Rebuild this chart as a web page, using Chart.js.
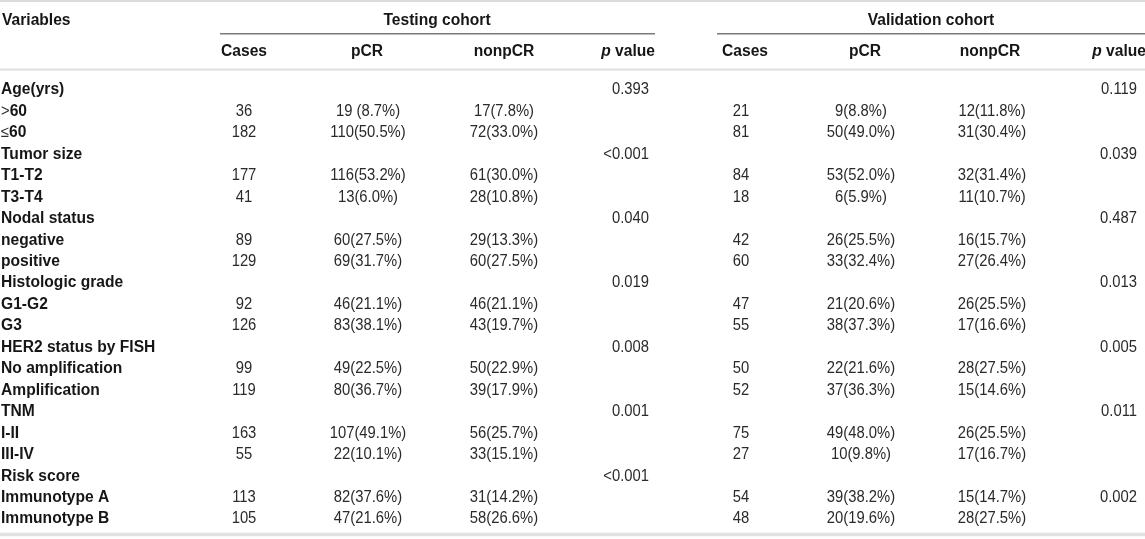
<!DOCTYPE html>
<html>
<head>
<meta charset="utf-8">
<script src="https://cdn.jsdelivr.net/npm/chart.js@4.4.1/dist/chart.umd.min.js"></script>
<style>
html,body{margin:0;padding:0;background:#ffffff;overflow:hidden;}
canvas{display:block;}
</style>
</head>
<body>
<canvas id="c" width="1145" height="539"></canvas>
<script>
// ---------------- DATA ----------------
const variables = ['Age(yrs)', '>60', '\u226460', 'Tumor size', 'T1-T2', 'T3-T4', 'Nodal status', 'negative', 'positive',
  'Histologic grade', 'G1-G2', 'G3', 'HER2 status by FISH', 'No amplification', 'Amplification', 'TNM', 'I-II', 'III-IV',
  'Risk score', 'Immunotype A', 'Immunotype B'];
const testCases = ['', '36', '182', '', '177', '41', '', '89', '129', '', '92', '126', '', '99', '119', '', '163', '55', '', '113', '105'];
const testPCR = ['', '19 (8.7%)', '110(50.5%)', '', '116(53.2%)', '13(6.0%)', '', '60(27.5%)', '69(31.7%)', '', '46(21.1%)', '83(38.1%)', '',
  '49(22.5%)', '80(36.7%)', '', '107(49.1%)', '22(10.1%)', '', '82(37.6%)', '47(21.6%)'];
const testNonPCR = ['', '17(7.8%)', '72(33.0%)', '', '61(30.0%)', '28(10.8%)', '', '29(13.3%)', '60(27.5%)', '', '46(21.1%)', '43(19.7%)', '',
  '50(22.9%)', '39(17.9%)', '', '56(25.7%)', '33(15.1%)', '', '31(14.2%)', '58(26.6%)'];
const testP = ['0.393', '', '', '<0.001', '', '', '0.040', '', '', '0.019', '', '', '0.008', '', '', '0.001', '', '', '<0.001', '', ''];
const valCases = ['', '21', '81', '', '84', '18', '', '42', '60', '', '47', '55', '', '50', '52', '', '75', '27', '', '54', '48'];
const valPCR = ['', '9(8.8%)', '50(49.0%)', '', '53(52.0%)', '6(5.9%)', '', '26(25.5%)', '33(32.4%)', '', '21(20.6%)', '38(37.3%)', '',
  '22(21.6%)', '37(36.3%)', '', '49(48.0%)', '10(9.8%)', '', '39(38.2%)', '20(19.6%)'];
const valNonPCR = ['', '12(11.8%)', '31(30.4%)', '', '32(31.4%)', '11(10.7%)', '', '16(15.7%)', '27(26.4%)', '', '26(25.5%)', '17(16.6%)', '',
  '28(27.5%)', '15(14.6%)', '', '26(25.5%)', '17(16.7%)', '', '15(14.7%)', '28(27.5%)'];
const valP = ['0.119', '', '', '0.039', '', '', '0.487', '', '', '0.013', '', '', '0.005', '', '', '0.011', '', '', '', '0.002', ''];
const groupHeaders = ['Testing cohort', 'Validation cohort'];
const subHeaders = ['Cases', 'pCR', 'nonpCR', 'p value', 'Cases', 'pCR', 'nonpCR', 'p value'];
const firstHeader = 'Variables';

// ---------------- LAYOUT (positions / styles) ----------------
const W = 1145, H = 539;
const FONT = "'Liberation Sans', Arial, Helvetica, sans-serif";
const SIZE = 16;
const HSCALE_REG = 0.925, HSCALE_BOLD = 0.975;
const TEXT_BOLD = '#161616', TEXT_REG = '#2a2a2a';
const rowY = { top: -4.196, bottom: 20.932 };       // y scale range in row units
const headY = -3.24, subY = -1.80;                   // header rows (row units)
const valueCols = [
  { vals: testCases, x: 244, align: 'center' },
  { vals: testPCR, x: 368, align: 'center' },
  { vals: testNonPCR, x: 504, align: 'center' },
  { vals: testP, x: 649, align: 'right' },
  { vals: valCases, x: 741, align: 'center' },
  { vals: valPCR, x: 861, align: 'center' },
  { vals: valNonPCR, x: 992, align: 'center' },
  { vals: valP, x: 1137, align: 'right' }
];
const subHeadX = [244, 367, 504, 655, 745, 865, 990, 1146];
const subHeadAlign = ['center', 'center', 'center', 'right', 'center', 'center', 'center', 'right'];
const groupHeadX = [437, 931];
const varX = 1;
const rules = [
  { x0: 0, x1: W, y: -4.15, color: '#dcdcdc', w: 2 },
  { x0: 220, x1: 655, y: -2.625, color: '#7a7a7a', w: 1.5 },
  { x0: 717, x1: W, y: -2.625, color: '#7a7a7a', w: 1.5 },
  { x0: 0, x1: W, y: -0.956, color: '#dedede', w: 2 },
  { x0: 0, x1: W, y: 20.72, color: '#e2e2e2', w: 3.5 }
];

// ---------------- rich text helpers ----------------
function fontStr(style) {
  const it = style.italic ? 'italic ' : '';
  const wt = style.bold ? 'bold ' : '';
  return it + wt + SIZE + 'px ' + FONT;
}
function drawRich(ctx, segs, x, y, align) {
  let total = 0;
  segs.forEach(s => {
    ctx.font = fontStr(s);
    s.hs = s.bold ? HSCALE_BOLD : HSCALE_REG;
    s.w = ctx.measureText(s.t).width * s.hs;
    total += s.w;
  });
  let sx = x;
  if (align === 'center') sx = x - total / 2;
  else if (align === 'right') sx = x - total;
  ctx.textAlign = 'left';
  segs.forEach(s => {
    ctx.save();
    ctx.font = fontStr(s);
    ctx.fillStyle = s.bold ? TEXT_BOLD : TEXT_REG;
    ctx.translate(sx, y);
    ctx.scale(s.hs, 1);
    ctx.fillText(s.t, 0, 0);
    ctx.restore();
    sx += s.w;
  });
}
function varSegs(label) {
  const c = label.charAt(0);
  if (c === '>' || c === '\u2264') return [{ t: c, bold: false }, { t: label.slice(1), bold: true }];
  return [{ t: label, bold: true }];
}
function headSegs(label) {
  if (label === 'p value') return [{ t: 'p', bold: true, italic: true }, { t: ' value', bold: true }];
  return [{ t: label, bold: true }];
}

// ---------------- datasets ----------------
const datasets = [];
rules.forEach(r => {
  datasets.push({
    type: 'scatter', showLine: true, data: [{ x: r.x0, y: r.y }, { x: r.x1, y: r.y }],
    borderColor: r.color, borderWidth: r.w, pointRadius: 0, fill: false
  });
});
// variable column
{
  const pts = [], segs = [];
  variables.forEach((v, i) => { pts.push({ x: varX, y: i }); segs.push(varSegs(v)); });
  datasets.push({ type: 'scatter', data: pts, pointRadius: 0, segs: segs, align: 'left' });
}
// value columns
valueCols.forEach(col => {
  const pts = [], segs = [];
  col.vals.forEach((v, i) => { if (v !== '') { pts.push({ x: col.x, y: i }); segs.push([{ t: v, bold: false }]); } });
  datasets.push({ type: 'scatter', data: pts, pointRadius: 0, segs: segs, align: col.align });
});
// headers
datasets.push({ type: 'scatter', data: [{ x: varX + 1, y: headY }], pointRadius: 0, segs: [headSegs(firstHeader)], align: 'left' });
groupHeaders.forEach((g, i) => {
  datasets.push({ type: 'scatter', data: [{ x: groupHeadX[i], y: headY }], pointRadius: 0, segs: [headSegs(g)], align: 'center' });
});
subHeaders.forEach((s, i) => {
  datasets.push({ type: 'scatter', data: [{ x: subHeadX[i], y: subY }], pointRadius: 0, segs: [headSegs(s)], align: subHeadAlign[i] });
});

const tablePlugin = {
  id: 'tableText',
  afterDatasetsDraw(chart) {
    const ctx = chart.ctx;
    ctx.save();
    ctx.textBaseline = 'middle';
    chart.data.datasets.forEach((ds, di) => {
      if (!ds.segs) return;
      const meta = chart.getDatasetMeta(di);
      meta.data.forEach((pt, i) => {
        drawRich(ctx, ds.segs[i].map(s => Object.assign({}, s)), pt.x, pt.y, ds.align);
      });
    });
    ctx.restore();
  }
};

new Chart(document.getElementById('c'), {
  type: 'scatter',
  data: { datasets: datasets },
  options: {
    responsive: false,
    animation: false,
    devicePixelRatio: 1,
    events: [],
    layout: { padding: 0 },
    plugins: { legend: { display: false }, tooltip: { enabled: false } },
    scales: {
      x: { type: 'linear', display: false, min: 0, max: W },
      y: { type: 'linear', display: false, min: rowY.top, max: rowY.bottom, reverse: true }
    }
  },
  plugins: [tablePlugin]
});
</script>
</body>
</html>
